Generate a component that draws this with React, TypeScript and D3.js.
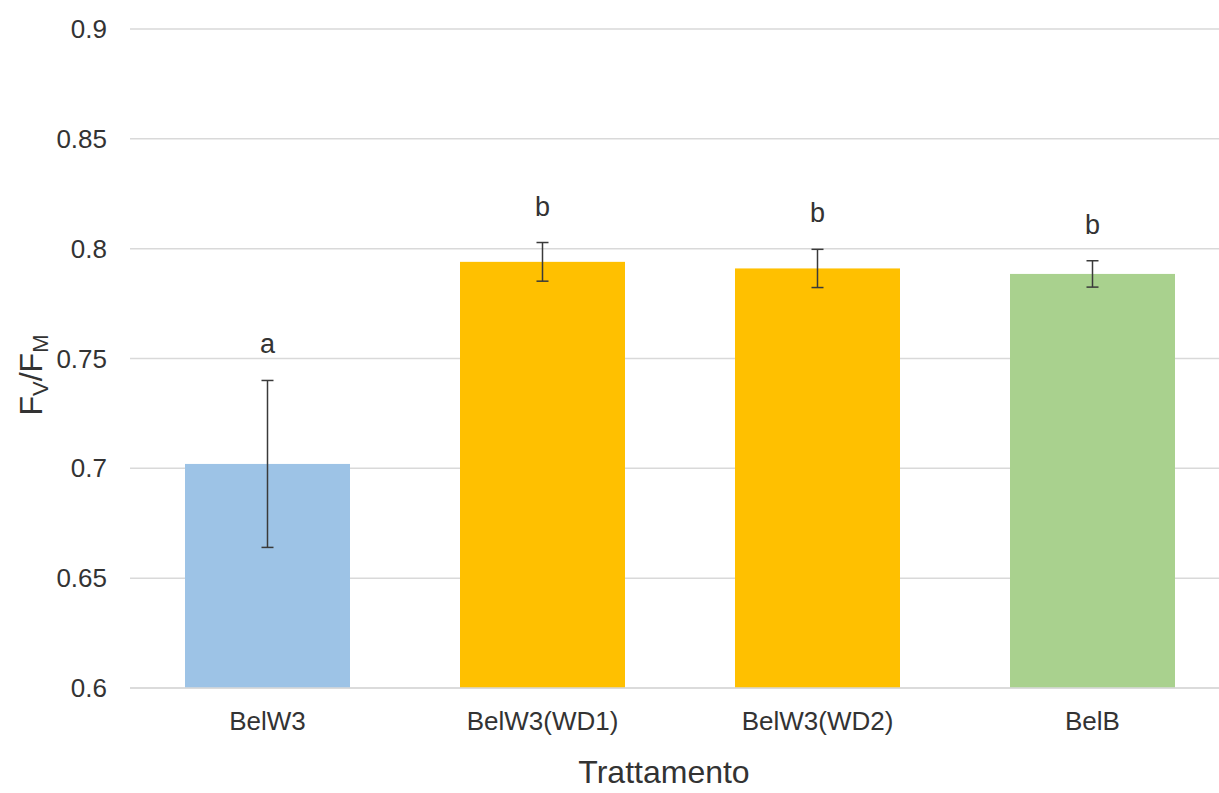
import React from "react";
import * as d3 from "d3";

const categories = ["BelW3", "BelW3(WD1)", "BelW3(WD2)", "BelB"];
const values = [0.702, 0.794, 0.791, 0.7885];
const errors = [0.038, 0.0088, 0.0087, 0.006];
const letters = ["a", "b", "b", "b"];
const colors = ["#9DC3E6", "#FFC000", "#FFC000", "#A9D18E"];
const yTicks = [0.6, 0.65, 0.7, 0.75, 0.8, 0.85, 0.9];

export default function App() {
  const W = 1219, H = 793;
  const x = d3.scaleBand<string>().domain(categories).range([130, 1230]).paddingInner(0.4).paddingOuter(0.2);
  const y = d3.scaleLinear().domain([0.6, 0.9]).range([688, 29]);
  const font = "Liberation Sans, Arial, sans-serif";
  const textColor = "#333333";
  return (
    <svg width={W} height={H} style={{ position: "absolute", left: 0, top: 0, background: "#fff" }} fontFamily={font}>
      {yTicks.map((t) => (
        <g key={t}>
          <line x1={130} x2={W} y1={y(t)} y2={y(t)} stroke="#D9D9D9" strokeWidth={1.5} />
          <text x={107} y={y(t)} dy="0.35em" textAnchor="end" fontSize={26} fill={textColor}>
            {String(t)}
          </text>
        </g>
      ))}
      {categories.map((c, i) => {
        const bx = x(c)!;
        const bw = x.bandwidth();
        const cx = bx + bw / 2;
        const top = y(values[i] + errors[i]);
        const bot = y(values[i] - errors[i]);
        return (
          <g key={c}>
            <rect x={bx} y={y(values[i])} width={bw} height={y(0.6) - y(values[i])} fill={colors[i]} />
            <line x1={cx} x2={cx} y1={top} y2={bot} stroke="#3a3a3a" strokeWidth={1.5} />
            <line x1={cx - 6} x2={cx + 6} y1={top} y2={top} stroke="#3a3a3a" strokeWidth={1.5} />
            <line x1={cx - 6} x2={cx + 6} y1={bot} y2={bot} stroke="#3a3a3a" strokeWidth={1.5} />
            <text x={cx} y={top - 27} textAnchor="middle" fontSize={27} fill={textColor}>
              {letters[i]}
            </text>
            <text x={cx} y={721} dy="0.35em" textAnchor="middle" fontSize={26} fill={textColor}>
              {c}
            </text>
          </g>
        );
      })}
      <line x1={130} x2={W} y1={y(0.6)} y2={y(0.6)} stroke="#D9D9D9" strokeWidth={1.5} />
      <text x={664} y={772} dy="0.35em" textAnchor="middle" fontSize={32} fill={textColor}>
        Trattamento
      </text>
      <text transform="translate(42,375) rotate(-90)" textAnchor="middle" fontSize={32} fill={textColor}>
        F<tspan fontSize={22} dy={6}>V</tspan>
        <tspan dy={-6}>/F</tspan>
        <tspan fontSize={22} dy={6}>M</tspan>
      </text>
    </svg>
  );
}
